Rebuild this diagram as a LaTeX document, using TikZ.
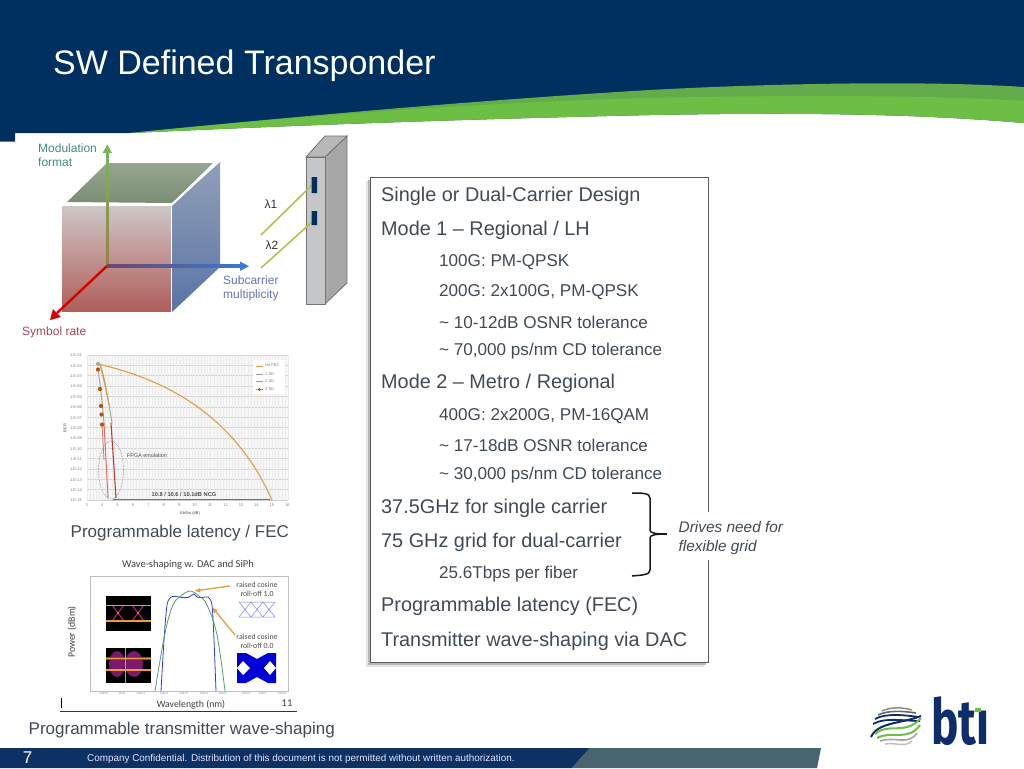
\documentclass[tikz,border=0pt]{standalone}
\usepackage{fontspec}
\usetikzlibrary{arrows.meta}
\setmainfont{Liberation Sans}
\newfontfamily\logofont{Fira Sans}
\newfontfamily\calib{Carlito}
\definecolor{navy}{HTML}{00305F}
\definecolor{grassA}{HTML}{6DBE45}
\definecolor{grassB}{HTML}{62AC4C}
\definecolor{txt}{HTML}{404B55}
\definecolor{foot}{HTML}{0D3162}
\definecolor{footgray}{HTML}{48646F}
\definecolor{orangeline}{HTML}{E0A040}
\definecolor{logoblue}{HTML}{0F2D6B}
\definecolor{eyebar}{HTML}{EC9A3C}
\definecolor{eyepink}{HTML}{B5257F}
\definecolor{eyedeep}{HTML}{7A1A68}
\definecolor{frontT}{RGB}{206,198,198}
\definecolor{frontB}{RGB}{176,94,90}
\definecolor{topT}{RGB}{150,166,146}
\definecolor{topB}{RGB}{122,142,116}
\definecolor{sideT}{RGB}{146,160,184}
\definecolor{sideB}{RGB}{88,116,166}
\definecolor{axG}{RGB}{124,180,90}
\definecolor{axO}{RGB}{150,130,70}
\definecolor{axP}{RGB}{110,70,110}
\definecolor{axB}{RGB}{60,120,210}
\definecolor{lblG}{RGB}{70,140,110}
\definecolor{lblB}{RGB}{100,118,175}
\definecolor{lblR}{RGB}{170,70,90}
\definecolor{cardS}{RGB}{166,166,166}
\definecolor{cardT}{RGB}{184,184,184}
\definecolor{cardF}{RGB}{196,198,200}
\definecolor{fibre}{RGB}{178,190,70}
\definecolor{redA}{RGB}{190,60,50}
\definecolor{redB}{RGB}{225,110,100}
\definecolor{specB}{RGB}{50,60,210}
\definecolor{specG}{RGB}{80,160,110}
\tikzset{
 big/.style={anchor=west,text=txt,font=\fontsize{19.85}{24}\selectfont,inner sep=0pt},
 small/.style={anchor=west,text=txt,font=\fontsize{17.1}{20}\selectfont,inner sep=0pt},
 captext/.style={anchor=west,text=txt,font=\fontsize{17}{20}\selectfont,inner sep=0pt},
 ticklab/.style={text=gray,font=\fontsize{4}{4}\selectfont,inner sep=0pt},
 tiny/.style={text=black!70,font=\fontsize{5.4}{6}\selectfont,inner sep=0pt},
 axlab/.style={text=black!75,font=\calib\fontsize{9.8}{12}\selectfont,inner sep=0pt},
 diag/.style={inner sep=0pt,font=\fontsize{12}{14}\selectfont,align=left},
 rc/.style={inner sep=0pt,text=black!70,font=\calib\fontsize{7.8}{8.6}\selectfont,align=center},
}
\begin{document}
\begin{tikzpicture}[x=1pt,y=-1pt,line cap=butt]
\useasboundingbox (0,0) rectangle (1024,768);
\fill[white] (0,0) rectangle (1024,768);
% header
\fill[navy] (0,0) -- (1024,0) -- (1024,123) .. controls (900,112) and (760,113) .. (650,115) .. controls (470,119) and (300,125) .. (130,133) -- (15,133) -- (15,141.5) -- (0,141.5) -- cycle;
\fill[grassB] (130,133) .. controls (300,116) and (480,100) .. (650,90) .. controls (760,84) and (920,80) .. (1024,87) -- (1024,123) .. controls (900,112) and (760,113) .. (650,115) .. controls (470,119) and (300,125) .. (130,133) -- cycle;
\fill[grassA] (130,133) .. controls (340,112) and (540,99) .. (700,97) .. controls (830,95) and (950,96) .. (1024,101) -- (1024,123) .. controls (900,112) and (760,113) .. (650,115) .. controls (470,119) and (300,125) .. (130,133) -- cycle;
\node[anchor=west,inner sep=0pt,text=white,font=\fontsize{34}{40}\selectfont] (title) at (53,66) {SW Defined Transponder};
% 3D cube
\begin{scope}
\shade[top color=frontT,bottom color=frontB] (62,206) rectangle (171,311);
\shade[top color=topT,bottom color=topB] (67,202) -- (107,163) -- (213,163) -- (172,203) -- cycle;
\shade[top color=sideT,bottom color=sideB] (171,207) -- (220,161) -- (220,267) -- (171,313) -- cycle;
\draw[white,line width=1.4] (62,205) -- (171,205) -- (220,161);
\draw[white,line width=1] (171,205) -- (171,313);
\shade[top color=axG,bottom color=axO] (106,266) rectangle (108.6,152);
\fill[axG] (107.3,144.5) -- (112,153) -- (102.6,153) -- cycle;
\shade[left color=axP,right color=axB] (107,264.8) rectangle (241,267.6);
\fill[axB] (249,266.2) -- (240,261.5) -- (240,270.9) -- cycle;
\draw[line width=2.4,red!85!black] (107,266) -- (57,313);
\fill[red!85!black] (50,320) -- (53,309) -- (61,317) -- cycle;
\node[diag,anchor=west,text=lblG] (mf) at (38,155) {Modulation\\format};
\node[diag,anchor=west,text=lblB] (sm) at (223,288.5) {Subcarrier\\multiplicity};
\node[diag,anchor=west,text=lblR] (sr) at (22,332) {Symbol rate};
% card
\fill[cardS,draw=black!55,line width=0.8] (325,157) -- (347,136) -- (347,283) -- (325,304) -- cycle;
\fill[cardT,draw=black!55,line width=0.8] (306,157) -- (325,136) -- (347,136) -- (325,157) -- cycle;
\fill[cardF,draw=black!55,line width=0.8] (306,157) rectangle (325,304);
\draw[line width=1.5,fibre] (312,185) -- (261,235) (312,222) -- (261,268);
\fill[navy] (311.5,177) rectangle (317,193) (311.5,211) rectangle (317,225);
\node[inner sep=0pt,font=\fontsize{12}{14}\selectfont,text=black!80] (l1) at (271,204) {λ1};
\node[inner sep=0pt,font=\fontsize{12}{14}\selectfont,text=black!80] (l2) at (272,245) {λ2};
\end{scope}
% text box
\fill[black!10] (366,181) rectangle (704,667);
\fill[black!28] (368,180) rectangle (706,665);
\fill[white,draw=black!65,line width=1] (370,177) rectangle (708,662);
\node[big] (t1) at (381,196) {Single or Dual-Carrier Design};
\node[big] (t2) at (381,230) {Mode 1 – Regional / LH};
\node[small] (t3) at (439,262) {100G: PM-QPSK};
\node[small] (t4) at (439,292) {200G: 2x100G, PM-QPSK};
\node[small] (t5) at (439,322) {\textasciitilde{} 10-12dB OSNR tolerance};
\node[small] (t6) at (439,351) {\textasciitilde{} 70,000 ps/nm CD tolerance};
\node[big] (t7) at (381,383.5) {Mode 2 – Metro / Regional};
\node[small] (t8) at (439,416) {400G: 2x200G, PM-16QAM};
\node[small] (t9) at (439,445) {\textasciitilde{} 17-18dB OSNR tolerance};
\node[small] (t10) at (439,475) {\textasciitilde{} 30,000 ps/nm CD tolerance};
\node[big] (t11) at (381,508) {37.5GHz for single carrier};
\node[big] (t12) at (381,542) {75 GHz grid for dual-carrier};
\node[small] (t13) at (439,574) {25.6Tbps per fiber};
\node[big] (t14) at (381,606.5) {Programmable latency (FEC)};
\node[big] (t15) at (381,641) {Transmitter wave-shaping via DAC};
% brace
\fill[white] (672,512) rectangle (800,560);
\draw[line width=1.5,black!90] (632,493) .. controls (642,493) and (650,493) .. (650,498) -- (650,530) .. controls (650,533) and (655,534) .. (667,534) .. controls (655,534) and (650,535) .. (650,538) -- (650,570) .. controls (650,575) and (642,575) .. (632,576);
\node[inner sep=0pt,anchor=west,align=left,text=txt,font=\fontsize{15.4}{19}\itshape\selectfont] (dr) at (678.5,538) {Drives need for\\flexible grid};
% BER chart
\begin{scope}
\fill[black!3] (87,355) rectangle (288,500);
\foreach \i in {0,...,14} \draw[black!18,line width=0.5] (87,355+10.36*\i) -- (288,355+10.36*\i);
\foreach \i in {0,...,65} \draw[black!8,line width=0.3] (87+3.09*\i,355) -- (87+3.09*\i,500);
\foreach \i [count=\n from 1] in {0,...,14}
  \node[ticklab] at (76,355.5+10.36*\i) {1.E-\ifnum\n<10 0\fi\n};
\foreach \i in {3,...,16}
  \node[ticklab] at (86.7+15.43*\i-46.3,505) {\i};
\node[ticklab,rotate=90,text=black!70] (berlab) at (65,428) {BER};
\node[ticklab,text=black!70] (xlab) at (190,513) {Eb/No (dB)};
\draw[orangeline,line width=1.1] (98,364) .. controls (150,376) and (230,405) .. (272,500);
\draw[black!35,line width=1] (100,365) .. controls (104,372) and (110,410) .. (112,423);
\draw[orangeline,line width=1] (100,365) .. controls (103,375) and (107,395) .. (109,405);
\draw[redA,line width=1.1] (111,423) -- (116,498);
\draw[black!35,line width=1] (98,369) .. controls (101,390) and (103,410) .. (104,423);
\draw[redB,line width=1] (104,423) -- (108,498);
\draw[redB,line width=0.8] (102,424) -- (104,460);
\foreach \p in {(98,369.5),(100,389),(101,406),(101.5,414.5),(102,424.5)}
  \fill[orange!70!black] \p circle (2.1);
\fill[black!35] (98,364) circle (2);
\draw[black!60,densely dotted,line width=0.5] (111,470) ellipse (12.5 and 29);
\node[tiny] (fpga) at (147,456) {FPGA emulation};
\draw[black!55,line width=0.9,{Latex[length=2.5pt]}-{Latex[length=2.5pt]}] (112,499.5) -- (271,499.5);
\node[tiny,font=\bfseries\fontsize{5.7}{6}\selectfont] (ncg) at (184,494.5) {10.8 / 10.6 / 10.1dB NCG};
\fill[white] (253,360) rectangle (285,394);
\draw[orangeline,line width=0.8] (256,366) -- (263,366);
\node[ticklab,anchor=west] (k1) at (265,365.5) {No FEC};
\draw[black!40,line width=0.8] (256,374) -- (263,374);
\node[ticklab,anchor=west] (k2) at (265,374) {1 SD};
\draw[black!40,line width=0.8] (256,381.5) -- (263,381.5);
\node[ticklab,anchor=west] (k3) at (265,381.5) {2 SD};
\draw[orangeline,line width=0.8] (256,389.5) -- (263,389.5);
\fill[orange!70!black] (259.5,389.5) circle (1.7);
\node[ticklab,anchor=west] (k4) at (265,389.5) {3 SD};
\end{scope}
\node[captext] (c1) at (70.5,533.5) {Programmable latency / FEC};
% Wave chart
\begin{scope}
\node[axlab,font=\calib\fontsize{10.5}{12}\selectfont] (wt) at (188,565) {Wave-shaping w. DAC and SiPh};
\draw[black!25,line width=0.5] (90,576) rectangle (288,691);
\node[axlab,rotate=90] (pw) at (72,632) {Power (dBm)};
\node[axlab] (wl) at (191,705) {Wavelength (nm)};
\foreach \x/\l in {104/1543.9,122/1544,141/1544.1,164/1544.2,184/1544.3,204/1544.4,223/1544.5,246/1544.6,263/1544.7,282/1544.8}
  \node[ticklab,font=\fontsize{2.8}{3}\selectfont] at (\x,694) {\l};
% eyes
\fill[black] (106,596) rectangle (151,631);
\fill[black] (106,648) rectangle (151,683);
\draw[eyepink,line width=1] (112,605) -- (124,621) (112,621) -- (124,605) (132,605) -- (144,621) (132,621) -- (144,605);
\foreach \y in {605.5,621} \draw[eyebar,line width=1.4] (106,\y) -- (151,\y);
\fill[eyebar] (118,613) circle (1.2) (138,613) circle (1.2);
\fill[eyedeep] (117,664) ellipse (8 and 13) (134,664) ellipse (9 and 13);
\foreach \y in {658.5,670} \draw[eyepink,line width=2.2] (106,\y) -- (151,\y);
\foreach \y in {658.5,670} \draw[eyebar,line width=1.1] (106,\y) -- (151,\y);
\draw[black!35,line width=0.4] (125,648) -- (125,683);
% spectra
\draw[specB,line width=0.8] plot[smooth,tension=0.45] coordinates {(161,691) (164,640) (167,605) (171,597) (176,596.5) (182,597.5) (188,597.5) (192,595) (194,594) (197,597) (202,597.5) (208,597) (212,605) (214,640) (216,691)};
\draw[specG,line width=0.8] plot[smooth,tension=0.6] coordinates {(155,691) (165,633) (173,605) (181,596) (190,591) (199,596) (207,605) (217,635) (225,691)};
\draw[-{Latex[length=6pt,width=5pt]},orangeline,line width=1.3] (230,586) -- (194,591);
\draw[-{Latex[length=6pt,width=5pt]},orangeline,line width=1.3] (235,635) -- (212,607);
\node[rc] (rc1) at (257,589.5) {raised cosine\\roll-off 1.0};
\node[rc] (rc2) at (257,641.5) {raised cosine\\roll-off 0.0};
\draw[blue!50,line width=0.5] (239,602) -- (275,602) (239,617) -- (275,617) (239,602) -- (251,617) -- (263,602) -- (275,617) (239,617) -- (251,602) -- (263,617) -- (275,602);
\fill[blue!85!black] (237,653) -- (246,653) -- (257,659) -- (268,653) -- (276,653) -- (276,683) -- (268,683) -- (257,677) -- (246,683) -- (237,683) -- cycle;
\fill[white] (237,668) -- (243,661) -- (250,668) -- (243,675) -- cycle (264,668) -- (270,661) -- (276,668) -- (270,675) -- cycle;
\node[axlab,font=\calib\fontsize{10.5}{11}\selectfont] (pg) at (287,703) {11};
\draw[black,line width=0.8] (61.5,698) -- (61.5,708);
\draw[black!80,line width=0.7] (60,711) -- (297,711);
\end{scope}
\node[captext] (c2) at (28.5,730.5) {Programmable transmitter wave-shaping};
% footer
\fill[foot] (0,748) -- (590,748) -- (572,768) -- (0,768) -- cycle;
\fill[footgray] (590,748) -- (821,748) -- (817,768) -- (572,768) -- cycle;
\node[inner sep=0pt,text=white,font=\fontsize{17}{18}\selectfont] (pn) at (27.5,758) {7};
\node[inner sep=0pt,anchor=west,text=white!90!blue,font=\fontsize{9.9}{11}\selectfont] (conf) at (87,758.5) {Company Confidential. Distribution of this document is not permitted without written authorization.};
% logo
\draw[black!45,line width=1.5] (882,711) .. controls (890,707) and (902,707) .. (912,710);
\draw[black!60,line width=1.6] (878,715) .. controls (888,710) and (904,711) .. (916,713);
\draw[logoblue,line width=1.8] (875,719) .. controls (885,713) and (905,715) .. (918,717);
\draw[logoblue,line width=1.8] (873,724) .. controls (885,717) and (905,721) .. (920,721);
\draw[logoblue,line width=2] (871,737) .. controls (878,722) and (900,724) .. (921,716);
\draw[grassA,line width=2] (875,734) .. controls (888,722) and (905,736) .. (921,718);
\draw[grassA,line width=2] (877,738) .. controls (892,730) and (908,742) .. (920,725);
\draw[black!35,line width=1.6] (880,741) .. controls (895,736) and (908,746) .. (917,733);
\draw[black!25,line width=1.5] (885,744) .. controls (895,742) and (905,748) .. (912,741);
\node[inner sep=0pt,anchor=base west,text=logoblue,font=\logofont\bfseries\fontsize{63}{63}\selectfont,xscale=0.73] (logo) at (931,744.5) {bt\i};
\fill[grassA] (975,707.5) rectangle (981,712);
\end{tikzpicture}
\end{document}
